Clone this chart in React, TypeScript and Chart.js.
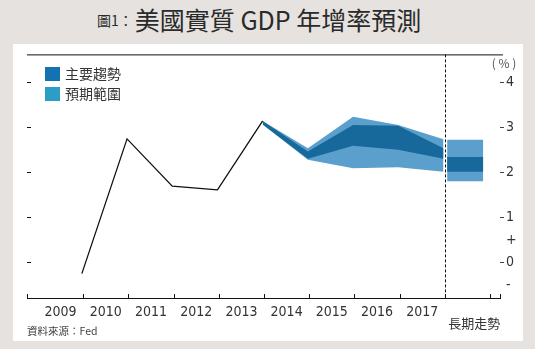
import React, { useEffect, useRef } from 'react';
import { Chart, registerables } from 'chart.js';

Chart.register(...registerables);

// ---------- data ----------
const CATEGORIES = ['2009', '2010', '2011', '2012', '2013', '2014', '2015', '2016', '2017'];
const LONG_RUN_LABEL = '長期走勢';

const ACTUAL_YEARS = ['2009', '2010', '2011', '2012', '2013'];
const ACTUAL_GROWTH = [-0.25, 2.74, 1.69, 1.61, 3.14];

const FORECAST_YEARS = ['2013', '2014', '2015', '2016', '2017'];
const CENTRAL_HIGH = [3.14, 2.46, 3.05, 3.03, 2.53];
const CENTRAL_LOW = [3.06, 2.3, 2.59, 2.5, 2.3];
const RANGE_HIGH = [3.14, 2.53, 3.23, 3.05, 2.73];
const RANGE_LOW = [3.06, 2.28, 2.09, 2.11, 2.01];

const LONG_RUN_CENTRAL = [2.01, 2.34]; // low, high
const LONG_RUN_RANGE = [1.8, 2.72]; // low, high

const Y_TICKS = [-0.5, 0, 0.5, 1, 2, 3, 4];
const LEFT_Y_MARKS = [0, 1, 2, 3, 4];

const LEGEND_LABELS = ['主要趨勢', '預期範圍'];

// ---------- layout / style ----------
const POINT_OFFSET = 0.47; // annual values sit at the end of each year slot
const LONG_RUN_SLOT = [8.55, 9.35];
const LONG_RUN_LABEL_AT = 9.15;
const DIVIDER_AT = 8.5;
const X_MIN = -0.743;
const X_MAX = 9.72;
const Y_MIN = -0.79;
const Y_MAX = 4.615;

const DARK = '#17699c';
const LIGHT = '#5b9fcc';
const LEGEND_COLORS = ['#1273b0', '#2c9ec6'];
const NARROW = '"Liberation Sans Narrow", "DejaVu Sans Condensed", "Roboto", sans-serif';
const CJK = '"Noto Sans CJK TC", "Noto Sans", sans-serif';

const xOf = (year: string) => CATEGORIES.indexOf(year) + POINT_OFFSET;

const decorPlugin = {
  id: 'decor',
  afterDraw(chart: any) {
    const { ctx, chartArea: a, scales } = chart;
    const x = scales.x;
    const y = scales.y;
    ctx.save();
    ctx.strokeStyle = '#111';
    ctx.lineWidth = 1;
    // top rule
    ctx.beginPath();
    ctx.moveTo(a.left, a.top + 0.5);
    ctx.lineTo(a.right + 3, a.top + 0.5);
    ctx.stroke();
    // inward tick marks on bottom axis, at slot boundaries and ends
    const tickVals = [x.min, ...CATEGORIES.map((_, i) => i + 0.5), CATEGORIES.length + 0.5, x.max];
    ctx.beginPath();
    tickVals.forEach((v) => {
      const px = Math.round(x.getPixelForValue(v)) + 0.5;
      ctx.moveTo(px, a.bottom);
      ctx.lineTo(px, a.bottom - 4);
    });
    // left marks
    LEFT_Y_MARKS.forEach((v) => {
      const py = Math.round(y.getPixelForValue(v)) + 0.5;
      ctx.moveTo(a.left, py);
      ctx.lineTo(a.left + 4, py);
    });
    ctx.stroke();
    // dashed divider
    ctx.setLineDash([3, 2]);
    ctx.beginPath();
    const dx = Math.round(x.getPixelForValue(DIVIDER_AT)) + 0.5;
    ctx.moveTo(dx, a.top);
    ctx.lineTo(dx, a.bottom);
    ctx.stroke();
    ctx.setLineDash([]);
    // long-run label
    ctx.font = `13px ${CJK}`;
    ctx.fillStyle = '#333';
    ctx.textAlign = 'center';
    ctx.textBaseline = 'middle';
    ctx.fillText(LONG_RUN_LABEL, x.getPixelForValue(LONG_RUN_LABEL_AT), a.bottom + 25);
    ctx.restore();
  },
};

function band(data: { x: number; y: number }[], color: string | null) {
  return {
    type: 'line',
    data,
    borderWidth: 0,
    borderColor: 'transparent',
    backgroundColor: color || 'transparent',
    pointRadius: 0,
    tension: 0,
    fill: color ? '+1' : false,
  };
}

export default function App() {
  const canvasRef = useRef<HTMLCanvasElement | null>(null);

  useEffect(() => {
    const canvas = canvasRef.current;
    if (!canvas) return;
    const fx = FORECAST_YEARS.map(xOf);
    const series = (vals: number[]) => vals.map((v, i) => ({ x: fx[i], y: v }));
    const lr = (v: number) => LONG_RUN_SLOT.map((x) => ({ x, y: v }));

    const chart = new Chart(canvas, {
      type: 'line',
      data: {
        datasets: [
          {
            label: 'actual',
            data: ACTUAL_YEARS.map((yr, i) => ({ x: xOf(yr), y: ACTUAL_GROWTH[i] })),
            borderColor: '#111',
            borderWidth: 1.3,
            pointRadius: 0,
            tension: 0,
            fill: false,
          },
          band(series(CENTRAL_HIGH), DARK),
          band(series(CENTRAL_LOW), null),
          band(series(RANGE_HIGH), LIGHT),
          band(series(RANGE_LOW), null),
          band(lr(LONG_RUN_CENTRAL[1]), DARK),
          band(lr(LONG_RUN_CENTRAL[0]), null),
          band(lr(LONG_RUN_RANGE[1]), LIGHT),
          band(lr(LONG_RUN_RANGE[0]), null),
        ] as any,
      },
      options: {
        responsive: false,
        maintainAspectRatio: false,
        animation: false,
        layout: { padding: { top: 8, left: 14, right: 0, bottom: 0 } },
        plugins: { legend: { display: false }, tooltip: { enabled: false } },
        scales: {
          x: {
            type: 'linear',
            min: X_MIN,
            max: X_MAX,
            grid: { display: false, drawTicks: false },
            border: { display: true, color: '#111', width: 1 },
            ticks: {
              autoSkip: false,
              maxRotation: 0,
              padding: 6,
              color: '#333',
              font: { family: NARROW, size: 14 },
              callback: (v: any) => CATEGORIES[v] ?? '',
            },
            afterBuildTicks: (s: any) => {
              s.ticks = CATEGORIES.map((_, i) => ({ value: i }));
            },
            afterFit: (s: any) => {
              s.height = 43;
            },
          },
          y: {
            type: 'linear',
            position: 'right',
            min: Y_MIN,
            max: Y_MAX,
            grid: {
              display: true,
              drawOnChartArea: false,
              drawTicks: true,
              tickLength: 4,
              tickWidth: 1,
              color: 'transparent',
              tickColor: (c: any) => (Number.isInteger(c.tick?.value) ? '#444' : 'transparent'),
            },
            border: { display: false },
            ticks: {
              padding: 2,
              color: '#333',
              font: { family: NARROW, size: 14 },
              callback: (v: any) => (Number.isInteger(v) ? `${v}` : v > 0 ? '+' : '-'),
            },
            afterBuildTicks: (s: any) => {
              s.ticks = Y_TICKS.map((v) => ({ value: v }));
            },
            afterFit: (s: any) => {
              s.width = 23;
            },
          },
        },
      } as any,
      plugins: [decorPlugin],
    });
    return () => chart.destroy();
  }, []);

  return (
    <div
      style={{
        position: 'fixed',
        left: 0,
        top: 0,
        width: 535,
        height: 349,
        background: '#e5e2df',
        overflow: 'hidden',
        fontFamily: CJK,
      }}
    >
      <div style={{ position: 'absolute', left: 97, top: 1, whiteSpace: 'nowrap', color: '#2a2a2a' }}>
        <span style={{ fontSize: 14, position: 'relative', top: -4 }}>圖1：</span>
        <span style={{ fontSize: 25, marginLeft: 2 }}>美國實質 GDP 年增率預測</span>
      </div>
      <div style={{ position: 'absolute', left: 13, top: 44, width: 510, height: 297, background: '#fff' }}>
        <canvas ref={canvasRef} width={510} height={297} style={{ display: 'block', width: 510, height: 297 }} />
        {LEGEND_LABELS.map((label, i) => (
          <div
            key={label}
            style={{
              position: 'absolute',
              left: 32,
              top: 22 + i * 20,
              height: 15,
              display: 'flex',
              alignItems: 'center',
              whiteSpace: 'nowrap',
            }}
          >
            <div style={{ width: 15, height: 14, background: LEGEND_COLORS[i], marginRight: 5 }} />
            <span style={{ fontSize: 14, color: '#333', lineHeight: '15px' }}>{label}</span>
          </div>
        ))}
        <div
          style={{
            position: 'absolute',
            left: 475,
            top: 10,
            width: 32,
            textAlign: 'center',
            fontSize: 12,
            lineHeight: '18px',
            color: '#555',
            whiteSpace: 'nowrap',
          }}
        >
          ( % )
        </div>
        <div
          style={{
            position: 'absolute',
            left: 14,
            top: 279,
            fontSize: 10.5,
            lineHeight: '16px',
            color: '#444',
            whiteSpace: 'nowrap',
          }}
        >
          資料來源：Fed
        </div>
      </div>
    </div>
  );
}
